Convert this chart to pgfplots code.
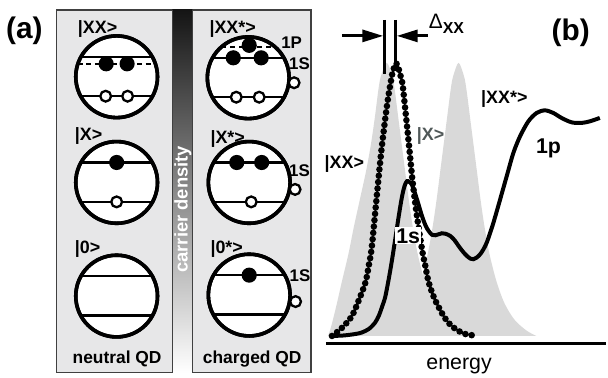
\documentclass[border=0pt]{standalone}
\usepackage{pgfplots}
\pgfplotsset{compat=1.18}
\usepackage{fontspec}
\setmainfont{Liberation Sans}
\usetikzlibrary{arrows.meta}
\definecolor{panelbg}{RGB}{231,231,232}
\definecolor{pk}{RGB}{217,217,217}
\definecolor{xgray}{RGB}{80,88,88}
\newcommand\fs[1]{\fontsize{#1}{#1}\selectfont}
\newcommand\qd[2]{%
 \draw[line width=3.6bp, fill=white] (axis cs:#1,#2) circle[radius=41bp];
 \draw[line width=2.6bp] ([shift={(-36bp,20bp)}]axis cs:#1,#2) -- ([shift={(36bp,20bp)}]axis cs:#1,#2);
 \draw[line width=2.6bp] ([shift={(-36.3bp,-19.5bp)}]axis cs:#1,#2) -- ([shift={(36.3bp,-19.5bp)}]axis cs:#1,#2);
 \draw[line width=3.6bp] (axis cs:#1,#2) circle[radius=41bp];}
\newcommand\el[2]{\fill (axis cs:#1,#2) circle[radius=7.6bp];}
\newcommand\ho[2]{\draw[line width=2.3bp, fill=white] (axis cs:#1,#2) circle[radius=5.4bp];}
\begin{document}
\begin{tikzpicture}
\begin{axis}[width=608bp, height=379bp, scale only axis,
  xmin=0, xmax=608, ymin=0, ymax=379, y dir=reverse,
  hide axis, clip=false]
\path (axis cs:0,0) rectangle (axis cs:608,379);
% ---------- panel (b) data ----------
\addplot[draw=none, fill=pk, smooth, tension=0.5] coordinates {
 (329,337) (331,331.5) (334,320.6) (338,304.1) (343,282.2) (349.5,254.8) (355,227.4) (361,200) (367,172.6) (372,145.2) (376,117.8) (379.5,90.4) (382,76.7) (388,63)
 (393.5,76.7) (396,90.4) (399.5,117.8) (403,145.2) (406.5,172.6) (410,200) (414,227.4) (419,254.8) (426,282.2) (434,304.1) (444,320.6) (456,331.5) (466,337)};
\addplot[draw=none, fill=pk, smooth, tension=0.5] coordinates {
 (382,337) (392,331.5) (404,320.6) (414,304.1) (422,282.2) (429,254.8) (434,227.4) (438,200) (441.5,172.6) (445,145.2) (448.5,117.8) (452,90.4) (454.5,76.7) (460,63)
 (465.5,76.7) (468,90.4) (471.5,117.8) (475,145.2) (478.5,172.6) (482,200) (486,227.4) (491,254.8) (498,282.2) (506,304.1) (516,320.6) (528,331.5) (538,337)};
\addplot[black, line width=4bp, smooth, tension=0.5] coordinates {
 (333,337) (345,336.5) (356.7,335) (363,333.5) (370,330) (376,324) (380,316.7) (383.5,307) (386.7,296.7) (391.7,270) (396,243) (400,216.7) (403.3,197) (406,186) (408.3,181.7) (410.5,182.5) (413.3,185.5) (418.3,200) (423.3,216.7) (427,226.5) (430,231.7) (433.3,235.5) (436.7,236) (440,235) (443.3,234) (447,234.5) (451.7,236.7) (456,241) (460,246.7) (464,252) (468.3,256.7) (472,259.5) (475,260) (478,258.5) (481.7,255) (485,250) (488.3,243.3) (491.5,234) (495,223.3) (501.7,200) (508.3,176.7) (515,153.3) (521.7,136.7) (530,121.7) (538.3,113.3) (546.7,110.7) (555,113.3) (563.3,118.3) (573.3,122.7) (583.3,123.3) (591.7,121.7) (601.7,118.3)};
\addplot[black, line width=6.6bp, line cap=round, dash pattern=on 0bp off 6.4bp, smooth, tension=0.5] coordinates {
 (333,337) (337,334) (344,328) (353,317) (360,301) (366.7,283) (370,266) (372.7,250) (376,217) (379.3,183) (382.7,150) (386.7,117) (389.5,97) (391.7,84) (394,72) (397.3,63.5) (400.5,71) (402.5,79) (404,86) (407.3,117) (410.7,150) (414,183) (418.3,217) (423.3,250) (426.5,266) (430,283) (436,300) (445,317) (452,326) (460,332) (468,335.5) (477,336.5)};
\draw[line width=3.8bp] (axis cs:327,344.5) -- (axis cs:608,344.5);
\draw[line width=3bp] (axis cs:386,20) -- (axis cs:386,74);
\draw[line width=3bp] (axis cs:396.5,20) -- (axis cs:396.5,64);
\draw[line width=3bp, -{Triangle[length=21bp,width=12bp]}] (axis cs:343,36) -- (axis cs:384.5,36);
\draw[line width=3bp, -{Triangle[length=21bp,width=12bp]}] (axis cs:429,36) -- (axis cs:398,36);
\node[anchor=base west, inner sep=0pt, font=\fs{21}] at (axis cs:430,29) {Δ\raisebox{-4.5bp}{\fs{16}\bfseries XX}};
\node[anchor=base west, inner sep=0pt, font=\fs{18}\bfseries] at (axis cs:325.5,169) {|XX>};
\node[anchor=base west, inner sep=0pt, font=\fs{18}\bfseries, text=xgray] at (axis cs:418,140.5) {|X>};
\node[anchor=base west, inner sep=0pt, font=\fs{18}\bfseries] at (axis cs:482.5,103.5) {|XX*>};
\node[anchor=base west, inner sep=0pt, font=\fs{21.5}\bfseries] at (axis cs:537.5,154) {1p};
\node[fill=white, inner sep=1.2bp, font=\fs{21.5}\bfseries] at (axis cs:409.5,236.5) {1s};
\node[anchor=base, inner sep=0pt, font=\fs{21.5}] at (axis cs:460.5,371) {energy};
\node[inner sep=0pt, font=\fs{30}\bfseries] at (axis cs:572.5,32.5) {(b)};
% ---------- panel (a) ----------
\node[inner sep=0pt, font=\fs{30}\bfseries] at (axis cs:24.5,31) {(a)};
\draw[line width=1.3bp, draw=black!75, fill=panelbg] (axis cs:57,10) rectangle (axis cs:312,374);
\shade[top color=black!92, bottom color=white] (axis cs:173,10) rectangle (axis cs:193,374);
\draw[line width=1.3bp, draw=black!75] (axis cs:173,10) -- (axis cs:173,374);
\draw[line width=1.3bp, draw=black!75] (axis cs:193,10) -- (axis cs:193,374);
\node[rotate=90, text=white, inner sep=0pt, font=\fs{18.5}\bfseries] at (axis cs:183.5,210) {carrier density};
% left column
\qd{117}{77}
\draw[line width=2.6bp, dash pattern=on 5bp off 3.5bp] ([shift={(-38.9bp,13bp)}]axis cs:117,77) -- ([shift={(38.9bp,13bp)}]axis cs:117,77);
\el{106.5}{64} \el{127.5}{64}
\ho{106}{96.5} \ho{128}{96.5}
\qd{117}{183}
\el{117}{163} \ho{117}{202.5}
\qd{117}{297}
% right column
\qd{249}{78}
\draw[line width=2.6bp, dash pattern=on 5bp off 4bp] ([shift={(-26.8bp,31bp)}]axis cs:249,78) -- ([shift={(26.8bp,31bp)}]axis cs:249,78);
\el{250}{45.5} \el{234}{58} \el{262}{58}
\ho{237}{97.5} \ho{260}{97.5} \ho{295}{83}
\qd{250}{183}
\el{237.5}{163} \el{262.5}{163} \ho{252}{202.5} \ho{296}{190}
\qd{250}{296}
\el{250}{276} \ho{296.5}{302.5}
% labels
\node[anchor=base west, inner sep=0pt, font=\fs{18}\bfseries] at (axis cs:78,34) {|XX>};
\node[anchor=base west, inner sep=0pt, font=\fs{18}\bfseries] at (axis cs:75,140.5) {|X>};
\node[anchor=base west, inner sep=0pt, font=\fs{18}\bfseries] at (axis cs:75,254.5) {|0>};
\node[anchor=base west, inner sep=0pt, font=\fs{18}\bfseries] at (axis cs:210,34) {|XX*>};
\node[anchor=base west, inner sep=0pt, font=\fs{18}\bfseries] at (axis cs:211,143.5) {|X*>};
\node[anchor=base west, inner sep=0pt, font=\fs{18}\bfseries] at (axis cs:211,254.5) {|0*>};
\node[inner sep=0pt, font=\fs{17}\bfseries] at (axis cs:292.5,42.5) {1P};
\node[inner sep=0pt, font=\fs{17}\bfseries] at (axis cs:300.5,63.5) {1S};
\node[inner sep=0pt, font=\fs{17}\bfseries] at (axis cs:300.5,171) {1S};
\node[inner sep=0pt, font=\fs{17}\bfseries] at (axis cs:301,277) {1S};
\node[anchor=base, inner sep=0pt, font=\fs{17.5}\bfseries] at (axis cs:117.5,364.5) {neutral QD};
\node[anchor=base, inner sep=0pt, font=\fs{17.5}\bfseries] at (axis cs:253,364.5) {charged QD};
\end{axis}
\end{tikzpicture}
\end{document}
